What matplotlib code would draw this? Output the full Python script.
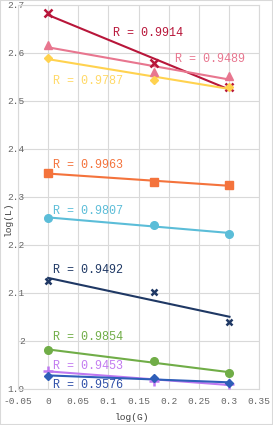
import numpy as np
import matplotlib
matplotlib.use("Agg")
import matplotlib.pyplot as plt
from matplotlib.patches import Rectangle
from matplotlib.ticker import FuncFormatter

# log(G) values shared by all series
log_g = [0.0, 0.1761, 0.3010]

# log(L) values per series
s_darkred = [2.683, 2.579, 2.529]
s_pink = [2.617, 2.560, 2.552]
s_yellow = [2.590, 2.544, 2.529]
s_orange = [2.350, 2.331, 2.325]
s_cyan = [2.256, 2.242, 2.223]
s_navy = [2.124, 2.102, 2.040]
s_green = [1.981, 1.958, 1.933]
s_purple = [1.938, 1.917, 1.910]
s_blue = [1.927, 1.923, 1.912]

r_labels = ["R = 0.9914", "R = 0.9489", "R = 0.9787", "R = 0.9963", "R = 0.9807",
            "R = 0.9492", "R = 0.9854", "R = 0.9453", "R = 0.9576"]

series = [s_darkred, s_pink, s_yellow, s_orange, s_cyan, s_navy, s_green, s_purple, s_blue]

# styles and label placement
colors = ['#B8163A', '#E8768F', '#FFD24F', '#F4733C', '#5BBDD8',
          '#1F3864', '#70AD47', '#BE78F0', '#2E5EB8']
label_colors = ['#B8163A', '#E8768F', '#FFD966', '#F4733C', '#5BBDD8',
                '#1F3864', '#70AD47', '#C27BF0', '#2F4FA8']
markers = ['x', '^', 'D', 's', 'o', 'x', 'o', '+', 'D']
msizes = [6, 6, 4.5, 5.5, 5.5, 5, 5.5, 6.5, 4.5]
label_pos = [(0.108, 2.642), (0.211, 2.588), (0.008, 2.542), (0.008, 2.367), (0.008, 2.271),
             (0.008, 2.148), (0.008, 2.008), (0.008, 1.948), (0.008, 1.909)]

fig = plt.figure(figsize=(2.73, 4.25), dpi=100)
ax = fig.add_axes([18 / 273, 1 - 389 / 425, (259 - 18) / 273, (389 - 5) / 425])

x = np.array(log_g)
for ys, c, lc, m, ms, lab, pos in zip(series, colors, label_colors, markers, msizes, r_labels, label_pos):
    ys = np.array(ys)
    k, b = np.polyfit(x, ys, 1)
    ax.plot([x[0], x[-1]], [b + k * x[0], b + k * x[-1]], color=c, lw=1.5, zorder=3)
    mew = 1.8 if m in ('x', '+') else 1.0
    ax.plot(x, ys, linestyle='none', marker=m, markersize=ms, color=c,
            markeredgewidth=mew, zorder=4)
    ax.text(pos[0], pos[1], lab, color=lc, fontsize=8.5, family='Liberation Mono',
            ha='left', va='center', zorder=5)

ax.set_xlim(-0.05, 0.35)
ax.set_ylim(1.9, 2.7)
ax.set_xticks(np.arange(-0.05, 0.351, 0.05))
ax.set_yticks(np.arange(1.9, 2.701, 0.1))
ax.xaxis.set_major_formatter(FuncFormatter(lambda v, p: '%g' % round(v, 2)))
ax.yaxis.set_major_formatter(FuncFormatter(lambda v, p: '%g' % round(v, 1)))

ax.grid(True, color='#D9D9D9', lw=0.8)
ax.set_axisbelow(True)
for sp in ax.spines.values():
    sp.set_color('#D9D9D9')
    sp.set_linewidth(0.8)

ax.tick_params(axis='both', length=0, colors='#666666', labelsize=6.8)
ax.tick_params(axis='y', pad=-5)
ax.tick_params(axis='x', pad=6)
for t in ax.get_xticklabels() + ax.get_yticklabels():
    t.set_family('Liberation Mono')

ax.set_xlabel('log(G)', family='Liberation Mono', fontsize=6.8, color='#404040')
ax.set_ylabel('log(L)', family='Liberation Mono', fontsize=6.8, color='#404040')
ax.xaxis.label.set_verticalalignment('center')
ax.yaxis.label.set_verticalalignment('center')
ax.xaxis.set_label_coords(0.473, -0.073)
ax.yaxis.set_label_coords(-0.041, 0.443)

fig.patches.append(Rectangle((0, 0), 1, 1, transform=fig.transFigure, fill=False,
                             edgecolor='#D9D9D9', lw=1.5))

fig.savefig('out.png', dpi=100)
